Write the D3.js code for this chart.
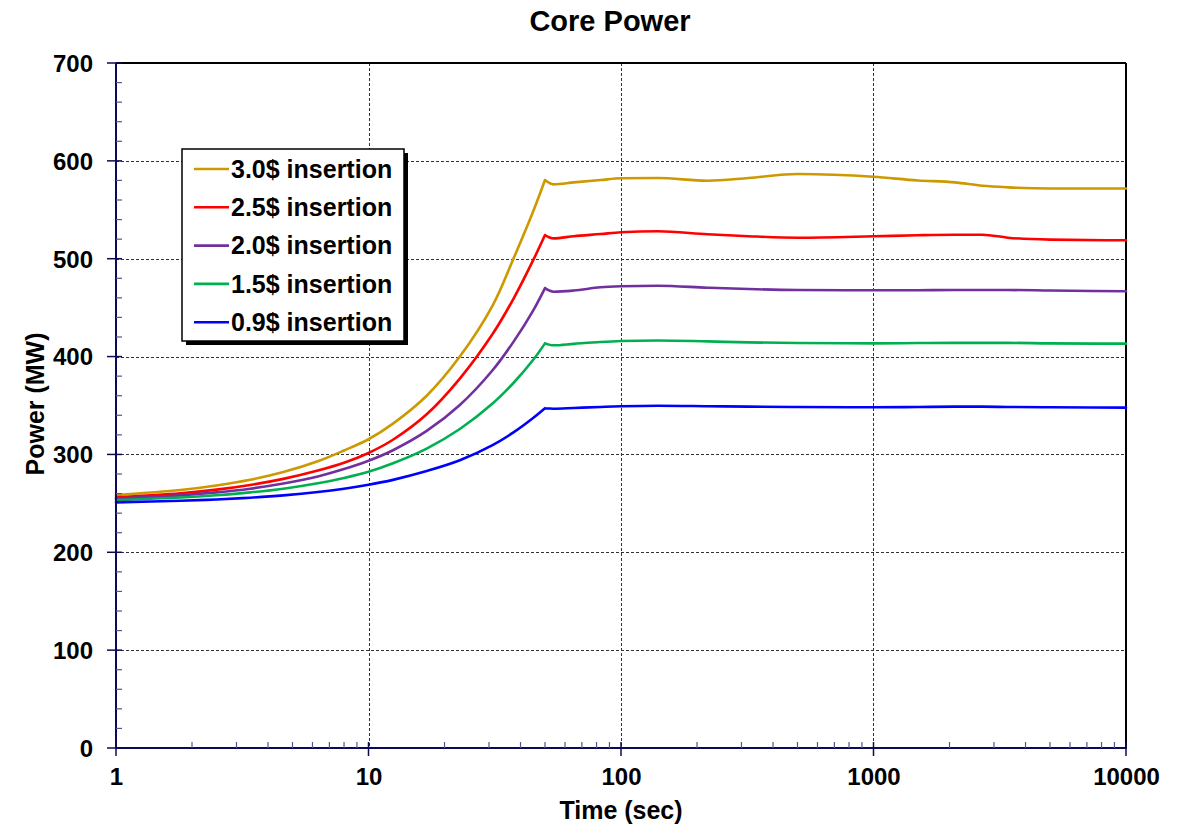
<!DOCTYPE html>
<html>
<head>
<meta charset="utf-8">
<script src="https://cdn.jsdelivr.net/npm/d3@7"></script>
<style>
  body { margin: 0; background: #fff; }
  svg { display: block; font-family: "Liberation Sans", Arial, sans-serif; }
</style>
</head>
<body>
<svg id="chart" width="1183" height="825"></svg>
<script>
// ---- data ----
const times = [1, 1.8, 2.5, 3.4, 4.6, 6.3, 8, 10, 12.5, 17, 23, 31, 37.5, 45, 50, 54, 65, 83, 100, 140, 220, 320, 500, 1000, 1500, 2100, 2700, 3400, 5000, 10000];
const power30 = [258.5, 263.7, 268.3, 274.1, 282, 293, 304, 315.5, 331.5, 360, 400, 452, 500, 549, 580.4, 576, 578, 580.4, 582.2, 582.5, 579.7, 582.5, 586.6, 583.8, 580, 578, 574.5, 572.9, 571.8, 571.8];
const power25 = [256.2, 260.3, 264, 268.8, 275, 283.5, 291.5, 301.5, 315, 341, 377.5, 423, 459, 499, 524.2, 520.8, 523, 525.2, 527, 528, 525, 523, 521.5, 522.9, 524, 524.5, 524.5, 521.5, 519.5, 518.8];
const power20 = [254.8, 258.2, 261.2, 265, 270.2, 277.5, 285, 293.5, 304.3, 324, 350.5, 386, 415, 447.5, 469.9, 466.3, 467.5, 470.8, 471.8, 472.4, 470.4, 469, 468, 467.7, 467.8, 468, 468, 468, 467.5, 466.7];
const power15 = [253.4, 256, 258.3, 261.2, 265, 270.5, 276, 282.3, 291, 306, 326, 352, 373, 397, 413.5, 411.5, 413, 414.9, 415.9, 416.5, 415.5, 414.5, 413.8, 413.5, 413.8, 414, 414, 414, 413.5, 413.2];
const power09 = [251, 252.6, 254, 255.8, 258.2, 261.6, 265, 269, 274, 283, 294, 309.5, 322.5, 337.5, 347.2, 346.7, 347.5, 348.5, 349.2, 349.8, 349.3, 348.8, 348.5, 348.2, 348.5, 348.8, 348.8, 348.5, 348.2, 347.8];
const seriesNames = ["3.0$ insertion", "2.5$ insertion", "2.0$ insertion", "1.5$ insertion", "0.9$ insertion"];
const seriesValues = [power30, power25, power20, power15, power09];
const seriesColors = ["#CC9900", "#FF0000", "#7030A0", "#00B050", "#0000FF"];
const xTickValues = [1, 10, 100, 1000, 10000];
const yTickValues = [0, 100, 200, 300, 400, 500, 600, 700];
const peakTime = 50;

// ---- layout ----
const svg = d3.select("#chart");
const L = 116, R = 1126, T = 63, B = 748;
const x = d3.scaleLog().domain([1, 10000]).range([L, R]);
const y = d3.scaleLinear().domain([0, 700]).range([B, T]);
const axisColor = "#0b0b55";

// gridlines
const grid = svg.append("g").attr("stroke", "#333").attr("stroke-width", 1).attr("stroke-dasharray", "3,2");
yTickValues.filter(v => v > 0 && v < 700).forEach(v => {
  grid.append("line").attr("x1", L).attr("x2", R).attr("y1", Math.round(y(v)) + 0.5).attr("y2", Math.round(y(v)) + 0.5);
});
xTickValues.filter(v => v > 1 && v < 10000).forEach(v => {
  grid.append("line").attr("y1", T).attr("y2", B).attr("x1", Math.round(x(v)) + 0.5).attr("x2", Math.round(x(v)) + 0.5);
});

// plot frame top/right
svg.append("line").attr("x1", L).attr("x2", R).attr("y1", T).attr("y2", T).attr("stroke", "#000").attr("stroke-width", 2);
svg.append("line").attr("x1", R).attr("x2", R).attr("y1", T).attr("y2", B).attr("stroke", "#000").attr("stroke-width", 2);

// series
const rampLine = d3.line().x(d => x(d[0])).y(d => y(d[1])).curve(d3.curveCatmullRom.alpha(0.5));
const flatLine = d3.line().x(d => x(d[0])).y(d => y(d[1])).curve(d3.curveMonotoneX);
const gLines = svg.append("g");
seriesValues.forEach((vals, i) => {
  const pts = times.map((t, j) => [t, vals[j]]);
  const ramp = pts.filter(p => p[0] <= peakTime);
  const plateau = pts.filter(p => p[0] >= peakTime);
  gLines.append("path")
    .attr("d", rampLine(ramp) + flatLine(plateau))
    .attr("fill", "none")
    .attr("stroke", seriesColors[i])
    .attr("stroke-width", 2.6)
    .attr("stroke-linejoin", "round")
    .attr("stroke-linecap", "round");
});

// Y axis
const yAxis = d3.axisLeft(y).tickValues(yTickValues).tickSize(0).tickPadding(0);
const gy = svg.append("g").attr("transform", `translate(${L},0)`).call(yAxis);
gy.select(".domain").remove();
gy.selectAll("text").attr("x", -23).attr("dy", "0.35em")
  .style("font-size", "24px").style("font-weight", "bold").attr("fill", "#000");
svg.append("line").attr("x1", L).attr("x2", L).attr("y1", T).attr("y2", B + 1).attr("stroke", axisColor).attr("stroke-width", 2);
const yMinor = d3.range(20, 700, 20).filter(v => v % 100 !== 0);
svg.append("g").selectAll("line").data(yMinor).join("line")
  .attr("x1", L).attr("x2", L + 6).attr("y1", d => y(d)).attr("y2", d => y(d))
  .attr("stroke", "#55558f").attr("stroke-width", 1.2);
svg.append("g").selectAll("line").data(yTickValues).join("line")
  .attr("x1", L - 9).attr("x2", L + 6).attr("y1", d => y(d)).attr("y2", d => y(d))
  .attr("stroke", axisColor).attr("stroke-width", 1.5);

// X axis
const xAxis = d3.axisBottom(x).tickValues(xTickValues).tickFormat(d3.format("d")).tickSize(0).tickPadding(0);
const gx = svg.append("g").attr("transform", `translate(0,${B})`).call(xAxis);
gx.select(".domain").remove();
gx.selectAll("text").attr("y", 29).attr("dy", "0.35em")
  .style("font-size", "24px").style("font-weight", "bold").attr("fill", "#000");
svg.append("line").attr("x1", L - 1).attr("x2", R + 1).attr("y1", B).attr("y2", B).attr("stroke", axisColor).attr("stroke-width", 2);
const xMinor = [];
[1, 10, 100, 1000].forEach(dec => { for (let k = 2; k <= 9; k++) xMinor.push(dec * k); });
svg.append("g").selectAll("line").data(xMinor).join("line")
  .attr("x1", d => x(d)).attr("x2", d => x(d)).attr("y1", B).attr("y2", B - 6)
  .attr("stroke", "#55558f").attr("stroke-width", 1.2);
svg.append("g").selectAll("line").data(xTickValues).join("line")
  .attr("x1", d => x(d)).attr("x2", d => x(d)).attr("y1", B - 6).attr("y2", B + 8)
  .attr("stroke", axisColor).attr("stroke-width", 1.5);

// titles
svg.append("text").attr("x", 610).attr("y", 21).attr("dy", "0.35em").attr("text-anchor", "middle")
  .style("font-size", "29px").style("font-weight", "bold").text("Core Power");
svg.append("text").attr("x", (L + R) / 2).attr("y", 810).attr("dy", "0.35em").attr("text-anchor", "middle")
  .style("font-size", "25px").style("font-weight", "bold").text("Time (sec)");
svg.append("text").attr("transform", "translate(35,404) rotate(-90)").attr("dy", "0.35em").attr("text-anchor", "middle")
  .style("font-size", "25px").style("font-weight", "bold").text("Power (MW)");

// legend
const lg = svg.append("g");
const lx = 182, ly = 149, lw = 222, lh = 192;
lg.append("rect").attr("x", lx + 4).attr("y", ly + 4).attr("width", lw).attr("height", lh).attr("fill", "#000");
lg.append("rect").attr("x", lx).attr("y", ly).attr("width", lw).attr("height", lh).attr("fill", "#fff").attr("stroke", "#000").attr("stroke-width", 1.5);
seriesNames.forEach((name, i) => {
  const cy = 169 + i * 38.3;
  lg.append("line").attr("x1", 194).attr("x2", 229).attr("y1", cy).attr("y2", cy)
    .attr("stroke", seriesColors[i]).attr("stroke-width", 2.6);
  lg.append("text").attr("x", 231).attr("y", cy).attr("dy", "0.35em")
    .style("font-size", "25px").style("font-weight", "bold").text(name);
});
</script>
</body>
</html>
